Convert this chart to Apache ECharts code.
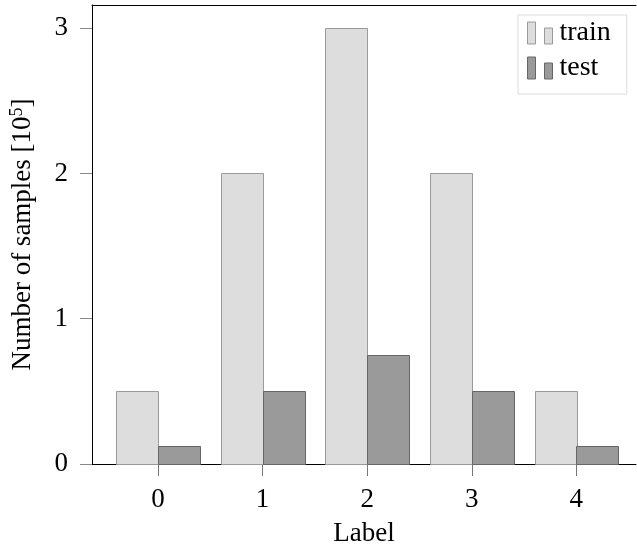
<!DOCTYPE html>
<html>
<head>
<meta charset="utf-8">
<script src="https://cdn.jsdelivr.net/npm/echarts@6/dist/echarts.min.js"></script>
<style>html,body{margin:0;padding:0;background:#fff}#c{width:637px;height:550px}</style>
</head>
<body>
<div id="c"></div>
<script>
var labels = [0, 1, 2, 3, 4];
var trainValues = [0.5, 2, 3, 2, 0.5];
var testValues = [0.125, 0.5, 0.75, 0.5, 0.125];
var yTicks = [0, 1, 2, 3];

var FONT = 'Liberation Serif';
var trainFill = '#dddddd', trainEdge = '#9a9a9a';
var testFill = '#9a9a9a', testEdge = '#666666';

function barRenderer(offset, fill, edge) {
  return function (params, api) {
    var x = api.value(0), y = api.value(1);
    var p0 = api.coord([x + offset, y]);
    var p1 = api.coord([x + offset + 0.4, 0]);
    return {
      type: 'rect',
      shape: { x: Math.round(p0[0]) + 0.5, y: Math.round(p0[1]) + 0.5,
               width: Math.round(p1[0] - p0[0]), height: Math.round(p1[1] - p0[1]) },
      style: { fill: fill, stroke: edge, lineWidth: 1 }
    };
  };
}

var chart = echarts.init(document.getElementById('c'));
var legendIcon = 'path://M0,0 L8,0 L8,22 L0,22 Z M17,6 L25,6 L25,22 L17,22 Z';
chart.setOption({
  animation: false,
  grid: { left: 92, right: 1, top: 5, bottom: 86, containLabel: false, outerBoundsMode: 'none' },
  legend: {
    orient: 'vertical', left: 518, top: 15,
    padding: [4, 16, 12, 9],
    borderColor: '#dcdcdc', borderWidth: 1,
    itemWidth: 25, itemHeight: 22, itemGap: 7,
    icon: legendIcon,
    textStyle: { fontFamily: FONT, fontSize: 28, color: '#000', lineHeight: 26, padding: [0, 0, 0, 2] },
    data: [
      { name: 'train', itemStyle: { color: trainFill, borderColor: trainEdge, borderWidth: 1 } },
      { name: 'test', itemStyle: { color: testFill, borderColor: testEdge, borderWidth: 1 } }
    ]
  },
  xAxis: [{
    type: 'value', min: -0.63, max: 4.57, position: 'bottom',
    splitLine: { show: false },
    axisLine: { show: true, onZero: false, lineStyle: { color: '#000', width: 1 } },
    axisTick: { show: true, length: 12, lineStyle: { color: '#777' }, customValues: labels },
    axisLabel: { customValues: labels, margin: 22, fontFamily: FONT, fontSize: 27, color: '#000' },
    name: 'Label', nameLocation: 'middle', nameGap: 56,
    nameTextStyle: { fontFamily: FONT, fontSize: 27, color: '#000' }
  }, {
    type: 'value', min: -0.63, max: 4.57, position: 'top',
    splitLine: { show: false },
    axisLine: { show: true, onZero: false, lineStyle: { color: '#000', width: 1 } },
    axisTick: { show: false }, axisLabel: { show: false }
  }],
  yAxis: {
    type: 'value', min: 0, max: 3.16,
    splitLine: { show: false },
    axisLine: { show: true, onZero: false, lineStyle: { color: '#000', width: 1 } },
    axisTick: { show: true, length: 12, lineStyle: { color: '#888' }, customValues: yTicks },
    axisLabel: { customValues: yTicks, margin: 24, fontFamily: FONT, fontSize: 27, color: '#000' },
    name: 'Number of samples [10{sup|5}]', nameLocation: 'middle', nameGap: 54,
    nameTextStyle: {
      fontFamily: FONT, fontSize: 27, color: '#000',
      rich: { sup: { fontFamily: FONT, fontSize: 18, color: '#000', padding: [0, 0, 12, 0] } }
    }
  },
  series: [{
    name: 'train', type: 'custom', xAxisIndex: 0,
    itemStyle: { color: trainFill, borderColor: trainEdge },
    renderItem: barRenderer(-0.4, trainFill, trainEdge),
    encode: { x: 0, y: 1 },
    data: labels.map(function (l, i) { return [l, trainValues[i]]; })
  }, {
    name: 'test', type: 'custom', xAxisIndex: 0,
    itemStyle: { color: testFill, borderColor: testEdge },
    renderItem: barRenderer(0, testFill, testEdge),
    encode: { x: 0, y: 1 },
    data: labels.map(function (l, i) { return [l, testValues[i]]; })
  }]
});
</script>
</body>
</html>
